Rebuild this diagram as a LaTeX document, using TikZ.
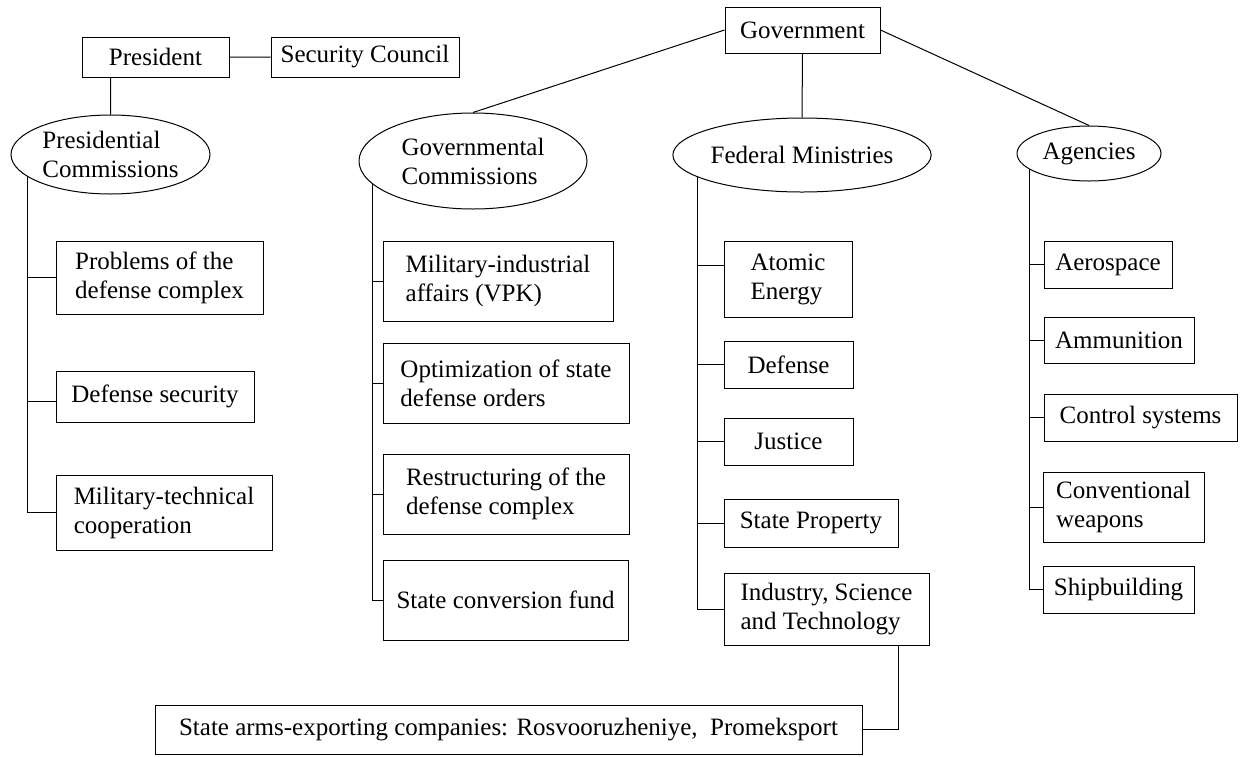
\documentclass[tikz,border=0pt]{standalone}
\usepackage{fontspec}
\setmainfont{Liberation Serif}
\usepackage{tikz}
\usetikzlibrary{shapes.geometric, positioning}

\begin{document}
\begin{tikzpicture}[x=1pt, y=-1pt,
					line width=1pt,
					every node/.style={font=\fontsize{25}{29}\selectfont, inner sep=0pt},
					unit/.style={draw, rectangle, align=left},
					body/.style={draw, ellipse, align=left}]
\useasboundingbox (0,0) rectangle (1242,756);

\node[unit, minimum width=147pt, minimum height=40pt] (pres) at (155.5,57) {President};
\node[unit, minimum width=188pt, minimum height=40pt] (sc) at (365,57) {Security Council};
\node[unit, minimum width=155pt, minimum height=46pt] (gov) at (802.5,30) {Government};

\node[body, minimum width=199pt, minimum height=79pt] (pc) at (110.5,154.5) {Presidential\\Commissions};
\node[body, minimum width=228pt, minimum height=96pt] (gc) at (473,161) {Governmental\\Commissions};
\node[body, minimum width=216pt, minimum height=74pt] (fm) at (802,155) {Federal Ministries};
\node[body, minimum width=144pt, minimum height=55pt] (ag) at (1089,153.5) {Agencies};

\node[unit, minimum width=207pt, minimum height=73pt] (prob) at (159.5,277.5) {Problems of the\\defense complex};
\node[unit, minimum width=198pt, minimum height=51pt] (dsec) at (155,396.5) {Defense security};
\node[unit, minimum width=216pt, minimum height=75pt] (mtc) at (164,512.5) {Military-technical\\cooperation};

\node[unit, minimum width=230pt, minimum height=80pt] (vpk) at (498,281) {Military-industrial\\affairs (VPK)};
\node[unit, minimum width=246pt, minimum height=80pt] (opt) at (506,383) {Optimization of state\\defense orders};
\node[unit, minimum width=246pt, minimum height=80pt] (rest) at (506,494) {Restructuring of the\\defense complex};
\node[unit, minimum width=245pt, minimum height=80pt] (fund) at (505.5,600) {State conversion fund};

\node[unit, minimum width=128pt, minimum height=76pt] (atom) at (788,279) {Atomic\\Energy};
\node[unit, minimum width=129pt, minimum height=47pt] (def) at (788.5,364.5) {Defense};
\node[unit, minimum width=129pt, minimum height=47pt] (just) at (788.5,441.5) {Justice};
\node[unit, minimum width=174pt, minimum height=48pt] (sprop) at (811,523) {State Property};
\node[unit, minimum width=205pt, minimum height=72pt] (ist) at (826.5,609) {Industry, Science\\and Technology};

\node[unit, minimum width=128pt, minimum height=47pt] (aero) at (1108,264.5) {Aerospace};
\node[unit, minimum width=150pt, minimum height=46pt] (ammo) at (1119,340) {Ammunition};
\node[unit, minimum width=193pt, minimum height=47pt] (ctrl) at (1140.5,417.5) {Control systems};
\node[unit, minimum width=161pt, minimum height=70pt] (conv) at (1123.5,507) {Conventional\\weapons};
\node[unit, minimum width=151pt, minimum height=47pt] (ship) at (1118.5,589.5) {Shipbuilding};

\node[unit, minimum width=707pt, minimum height=49pt] (sa) at (508.5,729.5) {State arms-exporting companies: Rosvooruzheniye,~ Promeksport};

\draw	(pres) -- (sc)
		(pc.north |- pres.south) -- (pc.north)
		(gov.west) -- (gc.north)
		(gov.south) -- (fm.north)
		(gov.east) -- (ag.north);

\draw	(pc.195) |- (prob.west)
		(pc.195) |- ([yshift=-5pt]dsec.west)
		(pc.195) |- (mtc.west);
\draw	(gc.193) |- (vpk.west)
		(gc.193) |- (opt.west)
		(gc.193) |- (rest.west)
		(gc.193) |- (fund.west);
\draw	(fm.192) |- ([yshift=14pt]atom.west)
		(fm.192) |- (def.west)
		(fm.192) |- (just.west)
		(fm.192) |- (sprop.west)
		(fm.192) |- (ist.west);
\draw	(ag.195) |- (aero.west)
		(ag.195) |- (ammo.west)
		(ag.195) |- (ctrl.west)
		(ag.195) |- (conv.west)
		(ag.195) |- (ship.west);
\draw	([xshift=-31pt]ist.south east) |- (sa.east);
\end{tikzpicture}
\end{document}
